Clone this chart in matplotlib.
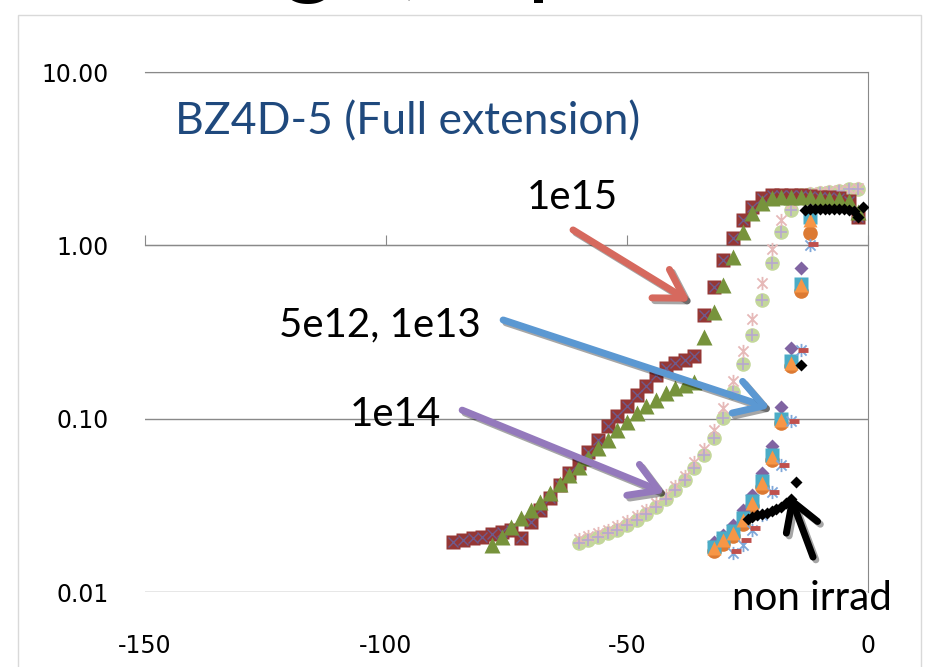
import matplotlib
matplotlib.use("Agg")
from matplotlib import pyplot as plt
from matplotlib.patches import Rectangle
from matplotlib.path import Path
from matplotlib.markers import MarkerStyle
import matplotlib.patheffects as pe

plt.rcParams['font.family'] = ['Lato', 'DejaVu Sans']
plt.rcParams['axes.unicode_minus'] = False

# 1e15 (dark red squares, with x overlay)
v_1e15 = [-86, -84, -82, -80, -78, -76, -74, -72, -70, -68, -66, -64, -62, -60,
          -58, -56, -54, -52, -50, -48, -46, -44, -42, -40, -38, -36, -34, -32,
          -30, -28, -26, -24, -22, -20, -18, -16, -14, -12, -10, -8, -6, -4, -2]
i_1e15 = [0.0195, 0.0200, 0.0204, 0.0208, 0.0216, 0.0223, 0.0228, 0.0204, 0.0255,
          0.0297, 0.0347, 0.0414, 0.0484, 0.0553, 0.0645, 0.0754, 0.0908, 0.103,
          0.118, 0.137, 0.154, 0.179, 0.196, 0.210, 0.218, 0.230, 0.397, 0.575,
          0.824, 1.10, 1.40, 1.67, 1.88, 1.95, 1.96, 1.95, 1.94, 1.93, 1.91, 1.90,
          1.88, 1.80, 1.46]

# 1e15 second sample (green triangles)
v_1e15b = [-78, -76, -74, -72, -70, -68, -66, -64, -62, -60, -58, -56, -54, -52,
           -50, -48, -46, -44, -42, -40, -38, -36, -34, -32, -30, -28, -26, -24,
           -22, -20, -18, -16, -14, -12, -10, -8, -6, -4, -2]
i_1e15b = [0.0187, 0.0208, 0.0237, 0.0267, 0.0297, 0.0331, 0.0373, 0.0420, 0.0473,
           0.0526, 0.0593, 0.0677, 0.0754, 0.0861, 0.0957, 0.108, 0.118, 0.128,
           0.141, 0.150, 0.156, 0.163, 0.296, 0.414, 0.591, 0.857, 1.20, 1.54,
           1.76, 1.88, 1.90, 1.90, 1.90, 1.89, 1.88, 1.86, 1.84, 1.80, 1.55]

# 1e14 (light green circles + pink stars)
v_1e14 = [-60, -58, -56, -54, -52, -50, -48, -46, -44, -42, -40, -38, -36, -34,
          -32, -30, -28, -26, -24, -22, -20, -18, -16, -14, -12, -10, -8, -6, -4, -2]
i_1e14 = [0.0192, 0.0200, 0.0208, 0.0218, 0.0228, 0.0244, 0.0260, 0.0282, 0.0309,
          0.0344, 0.0388, 0.0443, 0.0520, 0.0618, 0.0774, 0.101, 0.143, 0.207,
          0.304, 0.484, 0.791, 1.20, 1.60, 1.95, 1.98, 2.00, 2.03, 2.06, 2.10, 2.12]
i_1e14b = [0.0202, 0.0210, 0.0219, 0.0229, 0.0240, 0.0257, 0.0274, 0.0297, 0.0327,
           0.0365, 0.0410, 0.0470, 0.0560, 0.0670, 0.086, 0.115, 0.165, 0.246,
           0.376, 0.607, 0.953, 1.40, 1.75, 1.95, 2.00, 2.02, 2.05, 2.08, 2.12, 2.15]

# 5e12 / 1e13 cluster
v_low = [-32, -30, -28, -26, -24, -22, -20, -18, -16, -14, -12]
i_orange_tri = [0.0179, 0.0200, 0.0219, 0.0260, 0.0326, 0.0426, 0.0601, 0.0983, 0.210, 0.591, 1.40]
i_cyan_sq = [0.0182, 0.0204, 0.0224, 0.0266, 0.0333, 0.0435, 0.0615, 0.100, 0.214, 0.60, 1.45]
i_purple_dia = [0.0194, 0.0213, 0.0244, 0.0297, 0.0363, 0.0486, 0.0696, 0.117, 0.256, 0.741, 1.60]
i_orange_circ = [0.0172, 0.0190, 0.0210, 0.0248, 0.0312, 0.0405, 0.0575, 0.094, 0.200, 0.545, 1.18]

v_low2 = [-28, -26, -24, -22, -20, -18, -16, -14, -12]
i_blue_star = [0.0168, 0.0187, 0.0228, 0.0278, 0.0378, 0.0541, 0.097, 0.249, 1.005]
v_low3 = [-27.4, -25.4, -23.4, -21.4, -19.4, -17.4, -15.4, -13.4, -11.4]
i_red_dash = [0.0172, 0.0199, 0.0233, 0.0285, 0.0380, 0.0541, 0.097, 0.250, 1.02]

# non irradiated (black diamonds)
v_non = [-25, -24, -23, -22, -21, -20, -19, -18, -17, -16, -15, -14, -13, -12,
         -11, -10, -9, -8, -7, -6, -5, -4, -3, -2, -1]
i_non = [0.0264, 0.0271, 0.0277, 0.0282, 0.0287, 0.0293, 0.0301, 0.0310, 0.0326,
         0.0344, 0.0431, 0.204, 1.60, 1.62, 1.63, 1.63, 1.63, 1.62, 1.62, 1.62,
         1.62, 1.60, 1.58, 1.45, 1.66]

xticks = [-150, -100, -50, 0]
yticks = [0.01, 0.1, 1, 10]
ytick_labels = ['0.01', '0.10', '1.00', '10.00']

star = MarkerStyle(Path([(-1, -1), (1, 1), (-1, 1), (1, -1), (0, -1.3), (0, 1.3)],
                        [Path.MOVETO, Path.LINETO, Path.MOVETO, Path.LINETO,
                         Path.MOVETO, Path.LINETO]))

fig = plt.figure(figsize=(9.26, 6.67), dpi=100)
ax = fig.add_axes([145 / 926, 75 / 667, 723 / 926, 520 / 667])
ax.set_yscale('log')
ax.set_xlim(-150, 0)
ax.set_ylim(0.01, 10)

grey = '#898989'
tick_font = dict(family='DejaVu Sans', size=17)
ax.set_yticks(yticks)
ax.set_yticklabels(ytick_labels, fontdict=tick_font)
ax.yaxis.set_minor_locator(matplotlib.ticker.NullLocator())
ax.tick_params(axis='y', length=0, pad=26)
ax.grid(axis='y', color=grey, lw=1)
ax.set_axisbelow(True)
ax.spines['left'].set_visible(False)
ax.spines['right'].set_color(grey)
ax.spines['top'].set_color(grey)
ax.spines['bottom'].set_color(grey)
ax.spines['bottom'].set_position(('data', 1.0))
ax.set_xticks(xticks)
ax.tick_params(axis='x', direction='in', length=7, color=grey, labelbottom=False)

sec = ax.secondary_xaxis('bottom')
sec.set_xticks(xticks)
sec.set_xticklabels([str(t) for t in xticks], fontdict=tick_font)
sec.tick_params(length=0, pad=30)
sec.spines['bottom'].set_visible(False)

# 1e14
ax.plot(v_1e14, i_1e14, 'o', ms=10.5, color='#C4D79B', mec='none', zorder=3)
ax.plot(v_1e14, i_1e14b, ls='none', marker=star, ms=9.5, mec='#E6B9B8', mew=1.3, zorder=3)
ax.plot(v_1e14, i_1e14, '+', ms=9, mec='#B7A7CF', mew=1.2, zorder=3)
# 1e15
ax.plot(v_1e15, i_1e15, 's', ms=10.5, color='#953735', mec='none', zorder=4)
ax.plot(v_1e15, i_1e15, 'x', ms=7, mec='#6F5A8C', mew=1.0, zorder=4)
ax.plot(v_1e15b, i_1e15b, '^', ms=11.5, color='#77933C', mec='none', zorder=4)
# 5e12, 1e13
ax.plot(v_low, i_orange_circ, 'o', ms=10.5, color='#DC7A33', mec='none', zorder=5)
ax.plot(v_low, i_purple_dia, 'D', ms=7, color='#8064A2', mec='none', zorder=5)
ax.plot(v_low, i_cyan_sq, 's', ms=9.5, color='#4BACC6', mec='none', zorder=5)
ax.plot(v_low, i_orange_tri, '^', ms=10.5, color='#F79646', mec='none', zorder=5)
ax.plot(v_low2, i_blue_star, ls='none', marker=star, ms=9.5, mec='#7FA7D9', mew=1.3, zorder=5)
ax.plot(v_low3, i_red_dash, '_', ms=7, mec='#C0504D', mew=3.5, zorder=5)
# non irrad
ax.plot(v_non, i_non, 'D', ms=6.5, color='black', mec='none', zorder=6)

# labels and arrows
ax.text(-143.8, 5.15, 'BZ4D-5 (Full extension)', fontsize=32, color='#1F497D',
        ha='left', va='center')
ax.text(-61.4, 1.90, '1e15', fontsize=29, ha='center', va='center')
ax.text(-101.2, 0.347, '5e12, 1e13', fontsize=29, ha='center', va='center')
ax.text(-98.1, 0.105, '1e14', fontsize=29, ha='center', va='center')
ax.text(-11.6, 0.0092, 'non irrad', fontsize=29, ha='center', va='center')

arrows = [((-61.2, 1.227), (-36.9, 0.473), '#D6695E'),
          ((-75.7, 0.371), (-20.3, 0.1152), '#5B98D2'),
          ((-84.2, 0.112), (-42.1, 0.0373), '#9479BC'),
          ((-11.4, 0.0159), (-16.2, 0.0363), 'black')]
for tail, tip, c in arrows:
    ax.annotate('', xy=tip, xytext=tail, zorder=7,
                arrowprops=dict(arrowstyle='->,head_length=1.0,head_width=0.6',
                                lw=5, color=c, mutation_scale=20,
                                shrinkA=0, shrinkB=0,
                                path_effects=[pe.SimpleLineShadow(offset=(2, -2), alpha=0.35),
                                              pe.Normal()]))

# slide title remnants (cut by the slide edge) and chart frame
for ch, x in [('g', 283), (',', 401), ('p', 527)]:
    fig.text(x / 926, 1.0 + 14 / 667, ch, fontsize=72, ha='left', va='baseline')
fig.patches.append(Rectangle((18 / 926, -0.1), 903 / 926, 652 / 667 + 0.1,
                             transform=fig.transFigure, fill=False,
                             edgecolor='#D9D9D9', lw=1))

fig.savefig('out.png', dpi=100)
